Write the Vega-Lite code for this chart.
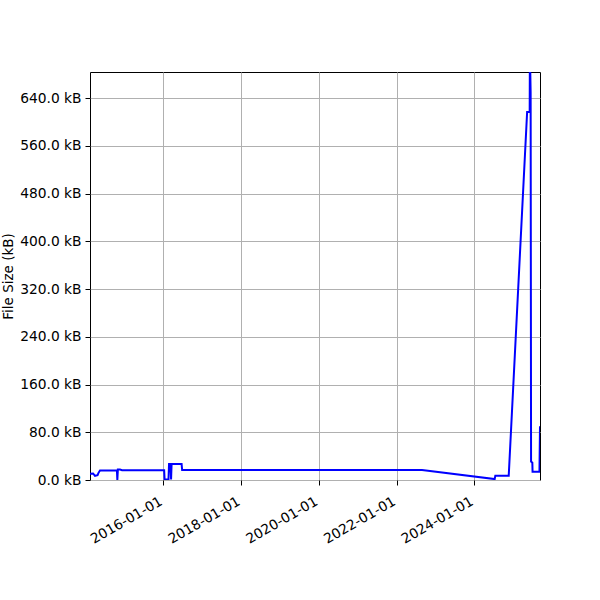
{
  "$schema": "https://vega.github.io/schema/vega-lite/v6.json",
  "autosize": "none",
  "width": 450,
  "height": 408,
  "padding": {"left": 90, "top": 72, "right": 60, "bottom": 120},
  "background": "white",
  "config": {
    "view": {"stroke": "black", "strokeWidth": 1},
    "axis": {
      "domain": false,
      "grid": true,
      "gridColor": "#b0b0b0",
      "gridWidth": 1,
      "tickColor": "black",
      "tickSize": 5,
      "tickWidth": 1,
      "labelColor": "black",
      "labelFont": "DejaVu Sans",
      "labelFontSize": 13.8,
      "labelPadding": 4,
      "titleFont": "DejaVu Sans",
      "titleFontSize": 13.5,
      "titleFontWeight": "normal",
      "titleColor": "black"
    }
  },
  "data": {
    "values": [
      {"date": "2014-02-10", "size": 10.5},
      {"date": "2014-03-11", "size": 11},
      {"date": "2014-03-29", "size": 7},
      {"date": "2014-04-22", "size": 8},
      {"date": "2014-05-01", "size": 12},
      {"date": "2014-05-15", "size": 16},
      {"date": "2014-10-21", "size": 16},
      {"date": "2014-10-25", "size": 0},
      {"date": "2014-10-30", "size": 17.5},
      {"date": "2014-11-19", "size": 17.5},
      {"date": "2014-12-08", "size": 16.5},
      {"date": "2016-01-08", "size": 16.5},
      {"date": "2016-01-12", "size": 1},
      {"date": "2016-02-18", "size": 1},
      {"date": "2016-02-23", "size": 27},
      {"date": "2016-03-08", "size": 27},
      {"date": "2016-03-13", "size": 1},
      {"date": "2016-03-18", "size": 27},
      {"date": "2016-06-20", "size": 27},
      {"date": "2016-06-25", "size": 16.7},
      {"date": "2022-08-28", "size": 16.7},
      {"date": "2024-07-11", "size": 1.5},
      {"date": "2024-07-17", "size": 7.3},
      {"date": "2024-11-20", "size": 7.3},
      {"date": "2025-05-12", "size": 617},
      {"date": "2025-06-05", "size": 617},
      {"date": "2025-06-07", "size": 720},
      {"date": "2025-06-14", "size": 650},
      {"date": "2025-06-18", "size": 31},
      {"date": "2025-06-30", "size": 29},
      {"date": "2025-07-02", "size": 14},
      {"date": "2025-09-05", "size": 14},
      {"date": "2025-09-10", "size": 90}
    ]
  },
  "mark": {"type": "line", "color": "#0000ff", "strokeWidth": 2, "clip": true, "interpolate": "linear"},
  "encoding": {
    "x": {
      "field": "date",
      "type": "temporal",
      "scale": {
        "type": "utc",
        "domain": [
          {"year": 2014, "month": 2, "date": 10, "utc": true},
          {"year": 2025, "month": 9, "date": 10, "utc": true}
        ]
      },
      "axis": {
        "title": null,
        "values": [
          {"year": 2016, "month": 1, "date": 1, "utc": true},
          {"year": 2018, "month": 1, "date": 1, "utc": true},
          {"year": 2020, "month": 1, "date": 1, "utc": true},
          {"year": 2022, "month": 1, "date": 1, "utc": true},
          {"year": 2024, "month": 1, "date": 1, "utc": true}
        ],
        "labelExpr": "utcFormat(datum.value, '%Y-%m-%d')",
        "labelAngle": -30,
        "labelAlign": "right",
        "labelBaseline": "top",
        "labelOffset": -6,
        "labelPadding": 9
      }
    },
    "y": {
      "field": "size",
      "type": "quantitative",
      "scale": {"domain": [0, 684], "nice": false, "zero": true},
      "axis": {
        "title": "File Size (kB)",
        "values": [0, 80, 160, 240, 320, 400, 480, 560, 640],
        "labelExpr": "format(datum.value, '.1f') + ' kB'",
        "titlePadding": 4
      }
    }
  }
}
